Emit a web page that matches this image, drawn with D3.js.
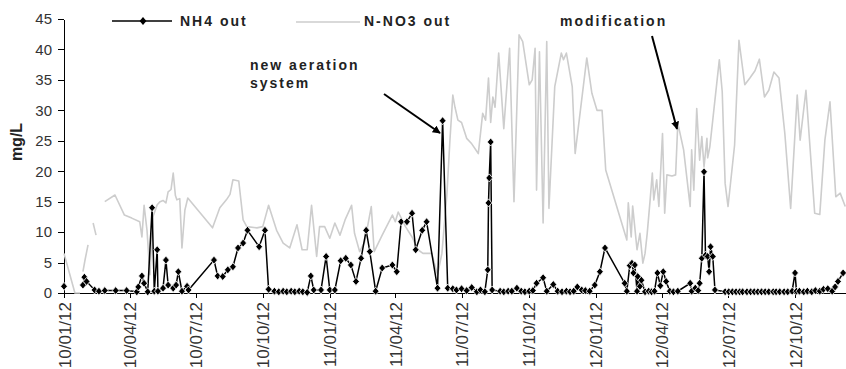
<!DOCTYPE html>
<html>
<head>
<meta charset="utf-8">
<script src="https://cdn.jsdelivr.net/npm/d3@7"></script>
<style>
    body { margin: 0; background: #fff; }
    .axis path, .axis line { fill: none; stroke: #000; shape-rendering: crispEdges; }
    .axis text { font-family: "Liberation Sans", Arial, sans-serif; fill: #333; }
    .ytick text { font-size: 15px; }
    .xtick text { font-size: 17px; }
    .label { font-family: "Liberation Sans", Arial, sans-serif; font-weight: bold; font-size: 14px; letter-spacing: 2px; fill: #222; }
    .ylabel { font-family: "Liberation Sans", Arial, sans-serif; font-weight: bold; font-size: 16px; fill: #222; text-anchor: middle; }
</style>
</head>
<body>
<div id="chart"></div>
<script>
// NH4 out (mg/L)
var nh4Dates = ["2010-01-12","2010-01-25","2010-02-07","2010-02-09","2010-02-12","2010-02-23","2010-03-01","2010-03-09","2010-03-24","2010-04-08",
    "2010-04-22","2010-04-24","2010-04-29","2010-05-02","2010-05-07","2010-05-13","2010-05-16","2010-05-20","2010-05-21","2010-05-28",
    "2010-06-01","2010-06-04","2010-06-11","2010-06-15","2010-06-18","2010-06-23","2010-06-30","2010-07-02","2010-08-06","2010-08-11",
    "2010-08-18","2010-08-25","2010-09-01","2010-09-08","2010-09-15","2010-09-21","2010-10-07","2010-10-15","2010-10-20","2010-10-28",
    "2010-11-03","2010-11-09","2010-11-14","2010-11-20","2010-11-25","2010-12-01","2010-12-06","2010-12-12","2010-12-17","2010-12-21",
    "2010-12-31","2011-01-07","2011-01-12","2011-01-19","2011-01-27","2011-02-03","2011-02-10","2011-02-17","2011-02-24","2011-03-03",
    "2011-03-08","2011-03-16","2011-03-25","2011-04-08","2011-04-14","2011-04-20","2011-04-28","2011-05-05","2011-05-10","2011-05-19",
    "2011-05-25","2011-06-09","2011-06-16","2011-06-23","2011-06-30","2011-07-05","2011-07-12","2011-07-19","2011-07-26","2011-08-02",
    "2011-08-07","2011-08-13","2011-08-17","2011-08-18","2011-08-19","2011-08-21","2011-08-23","2011-09-03","2011-09-08","2011-09-14",
    "2011-09-19","2011-09-26","2011-10-02","2011-10-07","2011-10-13","2011-10-18","2011-10-23","2011-11-01","2011-11-06","2011-11-15",
    "2011-11-21","2011-11-27","2011-12-03","2011-12-08","2011-12-13","2011-12-18","2011-12-24","2011-12-29","2012-01-04","2012-01-11",
    "2012-01-18","2012-01-25","2012-02-21","2012-02-24","2012-02-28","2012-03-02","2012-03-04","2012-03-06","2012-03-09","2012-03-10",
    "2012-03-13","2012-03-15","2012-03-20","2012-03-25","2012-03-29","2012-04-02","2012-04-06","2012-04-10","2012-04-14","2012-04-18",
    "2012-04-23","2012-04-28","2012-05-04","2012-05-21","2012-05-23","2012-05-28","2012-06-01","2012-06-03","2012-06-06","2012-06-09",
    "2012-06-11","2012-06-14","2012-06-16","2012-06-18","2012-06-21","2012-06-24","2012-07-08","2012-07-13","2012-07-18","2012-07-23",
    "2012-07-28","2012-08-01","2012-08-07","2012-08-12","2012-08-17","2012-08-22","2012-08-27","2012-09-01","2012-09-06","2012-09-12",
    "2012-09-16","2012-09-21","2012-09-27","2012-10-02","2012-10-08","2012-10-12","2012-10-14","2012-10-18","2012-10-24","2012-10-29",
    "2012-11-04","2012-11-09","2012-11-15","2012-11-20","2012-11-26","2012-12-02","2012-12-06","2012-12-10","2012-12-17"];
var nh4Values = [1.1,null,1.3,2.6,1.9,0.5,0.3,0.4,0.4,0.4,
    0.2,1.0,2.8,1.6,0.2,14.0,0.3,7.1,0.3,0.8,
    5.4,1.3,0.8,1.3,3.5,0.3,1.1,0.5,5.4,2.8,
    2.7,3.8,4.3,7.4,8.2,10.3,7.6,10.3,0.6,0.3,
    0.2,0.3,0.2,0.3,0.2,0.3,0.2,0.1,2.8,0.5,
    0.5,6.0,0.5,0.5,5.3,5.7,4.6,1.9,5.7,10.3,
    6.8,0.3,4.1,4.6,3.5,11.7,11.7,13.1,7.1,10.3,
    11.7,0.8,28.3,0.8,0.7,0.5,0.7,0.4,0.9,0.2,
    0.5,0.2,3.8,14.8,18.9,24.8,0.5,0.3,0.2,0.3,
    0.3,0.8,0.3,0.2,0.3,0.4,1.6,2.5,0.3,1.4,
    0.3,0.2,0.3,0.2,0.3,1.0,0.5,0.4,0.3,1.3,
    3.5,7.4,1.6,0.3,4.5,4.9,3.3,4.6,0.3,2.7,
    1.1,2.1,0.2,0.3,0.2,0.3,3.3,1.2,3.5,1.9,
    0.3,0.2,0.3,1.6,0.3,0.8,0.4,1.6,5.7,19.9,
    6.2,6.0,3.5,7.6,6.0,0.5,0.2,0.2,0.2,0.2,
    0.2,0.2,0.2,0.2,0.2,0.2,0.2,0.2,0.2,0.2,
    0.2,0.2,0.2,0.2,0.3,3.3,0.3,0.3,0.2,0.3,
    0.2,0.4,0.3,0.6,0.7,0.3,1.0,1.9,3.3];

// N-NO3 out (mg/L), null = no sample
var no3Dates = ["2010-01-12","2010-01-27","2010-02-03","2010-02-05","2010-02-07","2010-02-10","2010-02-14","2010-02-17","2010-02-21","2010-02-25",
    "2010-03-03","2010-03-09","2010-03-23","2010-04-05","2010-04-15","2010-04-26","2010-04-29","2010-05-02","2010-05-06","2010-05-10",
    "2010-05-14","2010-05-20","2010-05-24","2010-05-28","2010-06-01","2010-06-04","2010-06-08","2010-06-11","2010-06-14","2010-06-16",
    "2010-06-20","2010-06-23","2010-06-27","2010-07-01","2010-08-04","2010-08-14","2010-08-23","2010-08-28","2010-09-01","2010-09-09",
    "2010-09-15","2010-09-20","2010-10-04","2010-10-12","2010-10-20","2010-10-31","2010-11-09","2010-11-18","2010-11-28","2010-12-05",
    "2010-12-12","2010-12-18","2010-12-25","2010-12-29","2011-01-05","2011-01-12","2011-01-19","2011-01-26","2011-02-02","2011-02-11",
    "2011-02-15","2011-02-22","2011-03-01","2011-03-10","2011-03-14","2011-03-25","2011-04-08","2011-04-12","2011-04-16","2011-04-26",
    "2011-05-05","2011-05-13","2011-05-20","2011-06-01","2011-06-09","2011-06-15","2011-06-22","2011-06-26","2011-06-30","2011-07-03",
    "2011-07-07","2011-07-12","2011-07-19","2011-07-26","2011-08-04","2011-08-10","2011-08-14","2011-08-18","2011-08-21","2011-08-24",
    "2011-08-27","2011-09-01","2011-09-08","2011-09-16","2011-09-22","2011-09-29","2011-10-04","2011-10-13","2011-10-17","2011-10-21",
    "2011-10-23","2011-10-27","2011-11-01","2011-11-06","2011-11-09","2011-11-17","2011-11-26","2011-11-29","2011-12-03","2011-12-11",
    "2011-12-15","2011-12-31","2012-01-07","2012-01-14","2012-01-21","2012-01-26","2012-02-24","2012-02-26","2012-03-01","2012-03-03",
    "2012-03-09","2012-03-13","2012-03-17","2012-03-20","2012-03-23","2012-03-27","2012-03-30","2012-04-01","2012-04-05","2012-04-08",
    "2012-04-13","2012-04-16","2012-04-19","2012-04-26","2012-05-01","2012-05-04","2012-05-12","2012-05-21","2012-05-23","2012-05-26",
    "2012-05-30","2012-06-03","2012-06-06","2012-06-09","2012-06-13","2012-06-14","2012-06-17","2012-06-21","2012-06-30","2012-07-04",
    "2012-07-08","2012-07-12","2012-07-21","2012-07-27","2012-08-04","2012-08-11","2012-08-18","2012-08-24","2012-08-31","2012-09-06",
    "2012-09-13","2012-09-20","2012-09-28","2012-10-06","2012-10-15","2012-10-19","2012-10-27","2012-11-08","2012-11-15","2012-11-22",
    "2012-11-29","2012-12-07","2012-12-13","2012-12-20"];
var no3Values = [6.5,0,0,null,3.5,5.5,7.9,null,11.5,9.5,
    null,15.0,16.1,12.8,12.3,11.7,9.2,14.4,10.3,3.0,
    12.5,14.5,15.0,15.2,14.8,16.6,17.0,19.7,16.0,15.3,
    15.5,7.4,13.6,15.6,10.7,14.0,15.3,16.2,18.6,18.4,
    12.0,10.9,10.7,10.9,14.4,10.3,8.2,7.4,11.2,7.1,
    7.1,14.4,6.0,10.9,10.9,9.0,11.5,9.5,12.0,14.4,
    9.8,6.8,8.4,14.2,6.8,9.5,12.8,11.7,13.3,10.9,
    9.2,7.1,6.5,6.5,3.0,6.5,16.4,25.0,32.5,30.5,
    28.4,28.0,25.4,24.5,22.9,29.5,28.4,35.3,28.0,32.2,
    30.5,39.4,27.0,40.2,15.0,42.4,41.3,34.2,35.0,40.2,
    16.9,39.6,11.5,41.3,13.9,33.9,39.4,38.3,39.4,33.9,
    22.9,38.6,32.8,30.0,30.0,20.2,8.7,14.8,9.2,14.3,
    7.1,9.8,4.9,6.5,9.8,15.3,19.7,15.3,18.6,14.2,
    26.2,13.1,19.4,19.2,19.4,27.9,23.5,14.2,23.5,16.9,
    30.3,21.8,25.7,20.7,25.4,22.2,24.0,28.4,38.3,33.1,
    18.0,14.2,24.3,41.5,34.2,35.3,36.5,38.4,32.2,33.3,
    36.3,35.3,26.2,13.9,32.5,25.1,33.3,13.1,12.9,25.1,
    31.4,15.8,16.4,14.2];

var tickDates = ["2010-01-12","2010-04-12","2010-07-12","2010-10-12","2011-01-12","2011-04-12",
    "2011-07-12","2011-10-12","2012-01-12","2012-04-12","2012-07-12","2012-10-12"];
var yTicks = [0, 5, 10, 15, 20, 25, 30, 35, 40, 45];

var W = 846, H = 369;
var plotLeft = 64, plotRight = 846, plotTop = 19, plotBottom = 293;

var parse = d3.timeParse("%Y-%m-%d");
var fmt = d3.timeFormat("%y/%m/%d");

var nh4 = nh4Dates.map(function (d, i) { return { date: parse(d), value: nh4Values[i] }; });
var no3 = no3Dates.map(function (d, i) { return { date: parse(d), value: no3Values[i] }; });

var svg = d3.select("#chart").append("svg")
    .attr("width", W)
    .attr("height", H);

var x = d3.scaleTime()
    .domain([parse("2010-01-12"), parse("2012-12-21")])
    .range([plotLeft, plotRight]);

var y = d3.scaleLinear()
    .domain([0, 45])
    .range([plotBottom, plotTop]);

// axes
var yAxis = d3.axisLeft(y).tickValues(yTicks).tickSize(6).tickSizeOuter(0).tickPadding(6);
svg.append("g")
    .attr("class", "axis ytick")
    .attr("transform", "translate(" + plotLeft + ",0)")
    .call(yAxis);

var xAxis = d3.axisBottom(x).tickValues(tickDates.map(parse)).tickFormat(fmt).tickSize(5).tickSizeOuter(0);
svg.append("g")
    .attr("class", "axis xtick")
    .attr("transform", "translate(0," + plotBottom + ")")
    .call(xAxis)
    .selectAll("text")
    .attr("transform", "rotate(-90)")
    .attr("text-anchor", "end")
    .attr("x", -9)
    .attr("y", 0)
    .attr("dy", "0.36em");

svg.append("text")
    .attr("class", "ylabel")
    .attr("transform", "translate(22,142) rotate(-90)")
    .text("mg/L");

// lines
var line = d3.line()
    .defined(function (d) { return d.value !== null; })
    .x(function (d) { return x(d.date); })
    .y(function (d) { return y(d.value); });

svg.append("path")
    .datum(no3)
    .attr("fill", "none")
    .attr("stroke", "#cdcdcd")
    .attr("stroke-width", 1.6)
    .attr("stroke-linejoin", "round")
    .attr("d", line);

svg.append("path")
    .datum(nh4)
    .attr("fill", "none")
    .attr("stroke", "#000")
    .attr("stroke-width", 1.5)
    .attr("d", line);

var diamond = "M0,-4L3.4,0L0,4L-3.4,0Z";

svg.selectAll(".dot")
    .data(nh4.filter(function (d) { return d.value !== null; }))
    .enter().append("path")
    .attr("class", "dot")
    .attr("d", diamond)
    .attr("transform", function (d) { return "translate(" + x(d.date) + "," + y(d.value) + ")"; })
    .attr("fill", "#000")
    .attr("stroke", "#fff")
    .attr("stroke-width", 0.8);

// legend
svg.append("line").attr("x1", 112).attr("x2", 172).attr("y1", 21).attr("y2", 21)
    .attr("stroke", "#000").attr("stroke-width", 1.5);
svg.append("path").attr("d", diamond).attr("transform", "translate(143,21)").attr("fill", "#000");
svg.append("text").attr("class", "label").attr("x", 180).attr("y", 26).text("NH4 out");

svg.append("line").attr("x1", 296).attr("x2", 360).attr("y1", 22).attr("y2", 22)
    .attr("stroke", "#cdcdcd").attr("stroke-width", 1.6);
svg.append("text").attr("class", "label").attr("x", 364).attr("y", 26).text("N-NO3 out");

// annotations
svg.append("defs").append("marker")
    .attr("id", "arrow")
    .attr("viewBox", "0 0 10 10")
    .attr("refX", 9).attr("refY", 5)
    .attr("markerWidth", 4).attr("markerHeight", 4)
    .attr("orient", "auto")
    .append("path").attr("d", "M0,0L10,5L0,10Z").attr("fill", "#000");

svg.append("text").attr("class", "label").attr("x", 250).attr("y", 70).text("new aeration");
svg.append("text").attr("class", "label").attr("x", 250).attr("y", 88).text("system");
svg.append("line").attr("x1", 384).attr("y1", 94).attr("x2", 440).attr("y2", 133)
    .attr("stroke", "#000").attr("stroke-width", 2).attr("marker-end", "url(#arrow)");

svg.append("text").attr("class", "label").attr("x", 560).attr("y", 26).text("modification");
svg.append("line").attr("x1", 652).attr("y1", 36).attr("x2", 677).attr("y2", 129)
    .attr("stroke", "#000").attr("stroke-width", 2).attr("marker-end", "url(#arrow)");
</script>
</body>
</html>
